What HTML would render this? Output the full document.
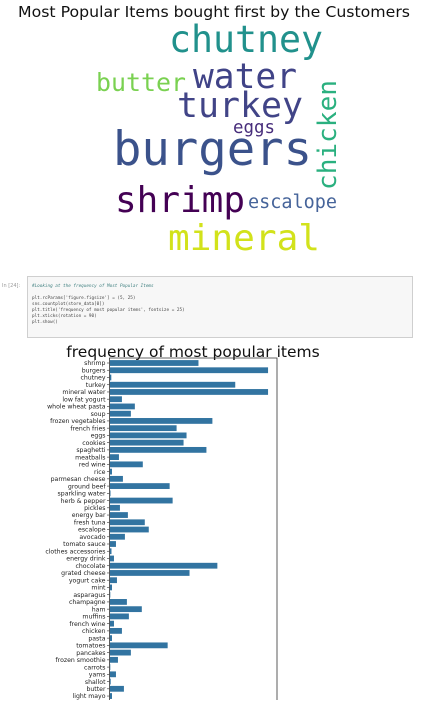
<!DOCTYPE html>
<html><head><meta charset="utf-8"><style>
body{margin:0;width:429px;height:700px;overflow:hidden;background:#fff;font-family:"DejaVu Sans","Liberation Sans",sans-serif}
</style></head><body>
<svg width="429" height="700" viewBox="0 0 429 700">
<text x="214" y="17" text-anchor="middle" font-size="15.5" fill="#111" textLength="392" lengthAdjust="spacingAndGlyphs">Most Popular Items bought first by the Customers</text>
<g font-family="'DejaVu Sans Mono',monospace">
<text x="169" y="52" font-size="37" fill="#21918c" textLength="154" lengthAdjust="spacingAndGlyphs">chutney</text>
<text x="96" y="91" font-size="25" fill="#7ad151" textLength="90" lengthAdjust="spacingAndGlyphs">butter</text>
<text x="193" y="88" font-size="35" fill="#404387" textLength="104" lengthAdjust="spacingAndGlyphs">water</text>
<text x="177" y="117" font-size="35" fill="#414487" textLength="126" lengthAdjust="spacingAndGlyphs">turkey</text>
<text x="233" y="133" font-size="17.5" fill="#472d7b" textLength="42" lengthAdjust="spacingAndGlyphs">eggs</text>
<text x="0" y="0" font-size="26" fill="#2ab07f" textLength="110" lengthAdjust="spacingAndGlyphs" transform="translate(336,190) rotate(-90)">chicken</text>
<text x="113" y="165" font-size="47" fill="#3b528b" textLength="199" lengthAdjust="spacingAndGlyphs">burgers</text>
<text x="115" y="212" font-size="36" fill="#440154" textLength="130" lengthAdjust="spacingAndGlyphs">shrimp</text>
<text x="248" y="208" font-size="18.5" fill="#46649a" textLength="89" lengthAdjust="spacingAndGlyphs">escalope</text>
<text x="168" y="250" font-size="36" fill="#d2e21b" textLength="152" lengthAdjust="spacingAndGlyphs">mineral</text>
</g>
<text x="2" y="287" font-size="5" fill="#999">In [24]:</text>
<rect x="27.5" y="276.5" width="385" height="61" fill="#f7f7f7" stroke="#cfcfcf"/>
<g font-family="'DejaVu Sans Mono',monospace" font-size="4.3" fill="#444">
<text x="32" y="287" fill="#408080" font-style="italic">#Looking at the frequency of Most Popular Items</text>
<text x="32" y="299">plt.rcParams['figure.figsize'] = (5, 25)</text>
<text x="32" y="305">sns.countplot(store_data[0])</text>
<text x="32" y="311">plt.title('frequency of most popular items', fontsize = 25)</text>
<text x="32" y="317">plt.xticks(rotation = 90)</text>
<text x="32" y="323">plt.show()</text>
</g>
<text x="193" y="357" text-anchor="middle" font-size="15.5" fill="#111">frequency of most popular items</text>
<g id="chart"></g>
</svg>
<script>
const categories=["shrimp","burgers","chutney","turkey","mineral water","low fat yogurt","whole wheat pasta","soup","frozen vegetables","french fries","eggs","cookies","spaghetti","meatballs","red wine","rice","parmesan cheese","ground beef","sparkling water","herb & pepper","pickles","energy bar","fresh tuna","escalope","avocado","tomato sauce","clothes accessories","energy drink","chocolate","grated cheese","yogurt cake","mint","asparagus","champagne","ham","muffins","french wine","chicken","pasta","tomatoes","pancakes","frozen smoothie","carrots","yams","shallot","butter","light mayo"];
const counts=[89,159,1.3,126,159,12,25,21,103,67,77,74,97,9,33,2,13,60,0.5,63,10,18,35,39,15,6,1.5,4,108,80,7,2,0.3,17,32,19,4,12,2,58,21,8,0.3,6,0.7,14,2];
const NS="http://www.w3.org/2000/svg";
const g=document.getElementById('chart');
const x0=110,x1=277,yTop=358,rowH=7.24,firstY=363,maxV=168;
const xs=v=>x0+v/maxV*(x1-x0);
const ys=i=>firstY+i*rowH;
const frame=document.createElementNS(NS,'path');
frame.setAttribute('d',`M${x0-0.5},705 V${yTop} H${x1} V705`);
frame.setAttribute('fill','none');frame.setAttribute('stroke','#333');frame.setAttribute('stroke-width','0.8');


g.appendChild(frame);
categories.forEach((c,i)=>{
 const y=ys(i);
 const r=document.createElementNS(NS,'rect');
 r.setAttribute('x',x0);r.setAttribute('y',y-2.9);r.setAttribute('width',Math.max(0,xs(counts[i])-x0));r.setAttribute('height',5.8);r.setAttribute('fill','#3274a1');
 
 
 g.appendChild(r);
 const t=document.createElementNS(NS,'line');
 t.setAttribute('x1',x0-3);t.setAttribute('x2',x0-0.5);t.setAttribute('y1',y);t.setAttribute('y2',y);t.setAttribute('stroke','#333');t.setAttribute('stroke-width','0.6');
 
 
 g.appendChild(t);
 const l=document.createElementNS(NS,'text');
 l.setAttribute('x',x0-4.5);l.setAttribute('y',y+2.2);l.setAttribute('text-anchor','end');l.setAttribute('font-size','6.2');l.setAttribute('fill','#222');
 l.textContent=c;
 
 
 g.appendChild(l);
});
</script>
</body></html>
